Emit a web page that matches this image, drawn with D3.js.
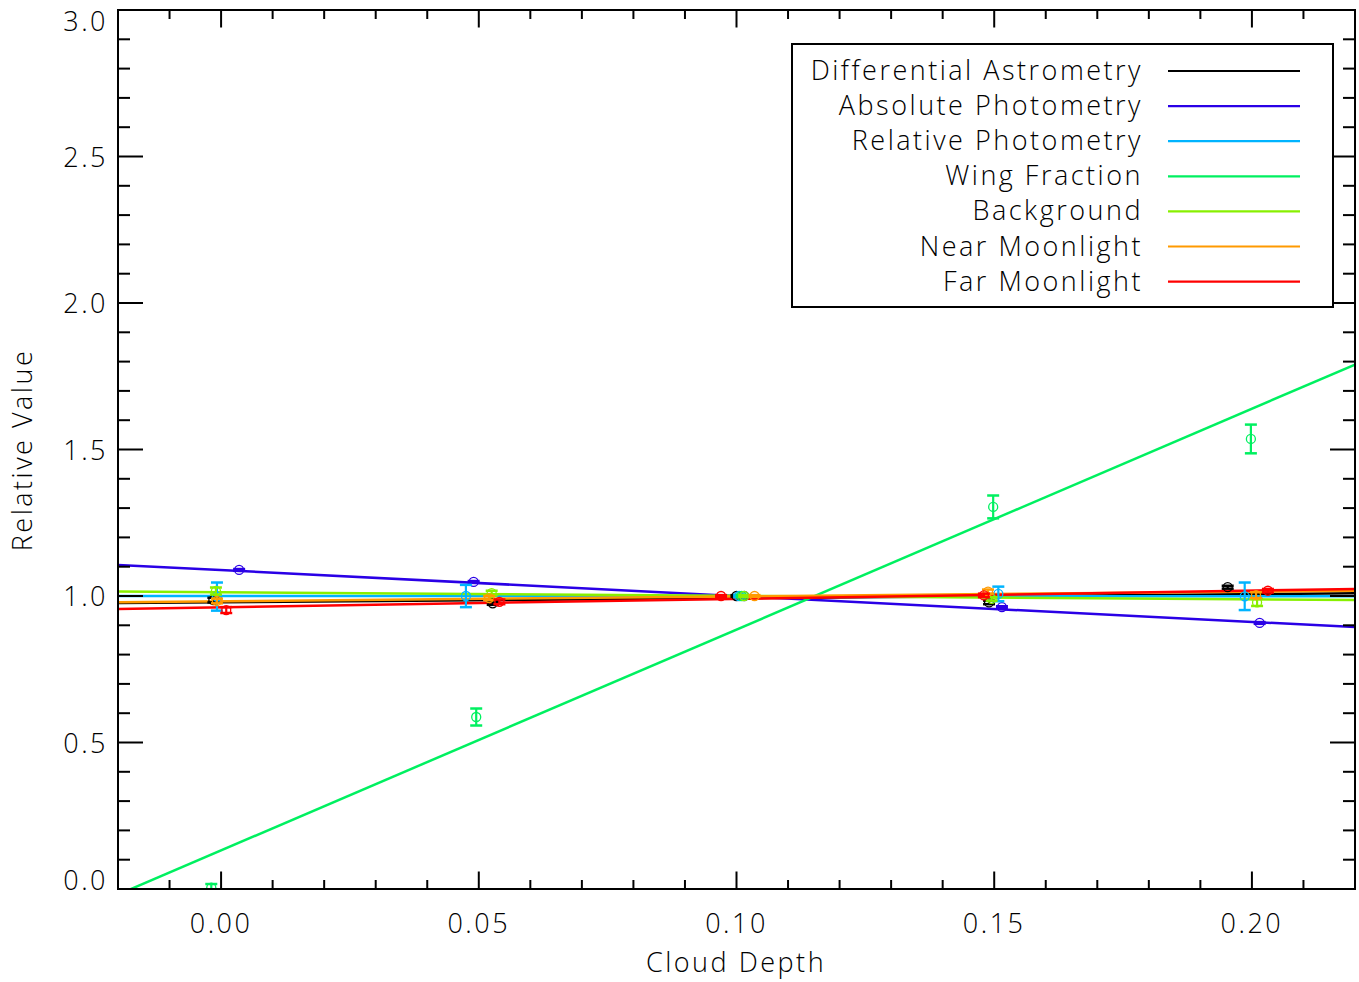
<!DOCTYPE html>
<html><head><meta charset="utf-8">
<script src="https://cdn.jsdelivr.net/npm/d3@7"></script>
<style>
body{margin:0;background:#fff;}
text{font-family:"Open Sans","Liberation Sans","DejaVu Sans",sans-serif;font-weight:300;fill:#000;}
</style></head>
<body><svg id="c" width="1359" height="982"></svg>
<script>
// ---- data ----
const seriesNames = ["Differential Astrometry","Absolute Photometry","Relative Photometry","Wing Fraction","Background","Near Moonlight","Far Moonlight"];
const seriesColors = ["#000000","#2a00e6","#00b4ff","#00f060","#88f000","#ff9a00","#ff0000"];
// point x positions (slightly offset per series), values and errors
const astromX = [-0.0015, 0.0527, 0.100, 0.1490, 0.1953];
const astromY = [0.986, 0.975, 1.000, 0.978, 1.030];
const astromE = [0.008, 0.005, 0.003, 0.006, 0.005];
const absPhotX = [0.0035, 0.0490, 0.1015, 0.1515, 0.2015];
const absPhotY = [1.089, 1.048, 1.000, 0.962, 0.908];
const absPhotE = [0.003, 0.003, 0.002, 0.003, 0.003];
const relPhotX = [-0.0008, 0.0475, 0.1005, 0.1508, 0.1986];
const relPhotY = [0.998, 1.000, 1.000, 1.007, 0.999];
const relPhotE = [0.048, 0.038, 0.004, 0.025, 0.047];
const wingX = [-0.0019, 0.0495, 0.1010, 0.1498, 0.1998];
const wingY = [0.005, 0.587, 1.000, 1.304, 1.536];
const wingE = [0.012, 0.029, 0.004, 0.039, 0.049];
const bgX = [-0.0010, 0.0525, 0.1015, 0.1495, 0.2010];
const bgY = [1.017, 1.010, 1.000, 0.990, 0.978];
const bgE = [0.012, 0.008, 0.003, 0.006, 0.012];
const nearX = [-0.0008, 0.0520, 0.1035, 0.1488, 0.2008];
const nearY = [0.983, 0.993, 1.000, 1.015, 1.003];
const nearE = [0.008, 0.007, 0.003, 0.007, 0.010];
const farX = [0.0010, 0.0540, 0.0970, 0.1480, 0.2031];
const farY = [0.952, 0.980, 1.000, 1.002, 1.018];
const farE = [0.010, 0.008, 0.003, 0.006, 0.006];
// fitted line values at the left (x=-0.02) and right (x=0.22) edges
const fitLeft  = [0.976, 1.106, 1.000, -0.019, 1.015, 0.979, 0.956];
const fitRight = [1.009, 0.894, 0.999, 1.790, 0.986, 1.018, 1.024];
const xTicks = [0.00, 0.05, 0.10, 0.15, 0.20];
const yTicks = [0.0, 0.5, 1.0, 1.5, 2.0, 2.5, 3.0];

const pointsX = [astromX, absPhotX, relPhotX, wingX, bgX, nearX, farX];
const pointsY = [astromY, absPhotY, relPhotY, wingY, bgY, nearY, farY];
const pointsE = [astromE, absPhotE, relPhotE, wingE, bgE, nearE, farE];

// ---- layout ----
const L = 118, R = 1355, T = 10, B = 889;
const x = d3.scaleLinear().domain([-0.02, 0.22]).range([L, R]);
const y = d3.scaleLinear().domain([0, 3]).range([B, T]);
const svg = d3.select("#c");

const plot = svg.append("g");
svg.append("clipPath").attr("id", "clip").append("rect").attr("x", L).attr("y", T).attr("width", R - L).attr("height", B - T);
const inner = plot.append("g").attr("clip-path", "url(#clip)");

// fit lines
seriesNames.forEach((n, i) => {
  inner.append("line")
    .attr("x1", x(-0.02)).attr("y1", y(fitLeft[i]))
    .attr("x2", x(0.22)).attr("y2", y(fitRight[i]))
    .attr("stroke", seriesColors[i]).attr("stroke-width", 2.5);
});

// points with error bars
seriesNames.forEach((n, i) => {
  const g = inner.append("g").attr("stroke", seriesColors[i]).attr("fill", "none");
  pointsX[i].forEach((px, j) => {
    const cx = x(px), v = pointsY[i][j], e = pointsE[i][j];
    const y1 = y(v + e), y2 = y(v - e);
    g.append("line").attr("x1", cx).attr("x2", cx).attr("y1", y1).attr("y2", y2).attr("stroke-width", 2.2);
    g.append("line").attr("x1", cx - 6).attr("x2", cx + 6).attr("y1", y1).attr("y2", y1).attr("stroke-width", 2.5);
    g.append("line").attr("x1", cx - 6).attr("x2", cx + 6).attr("y1", y2).attr("y2", y2).attr("stroke-width", 2.5);
    g.append("circle").attr("cx", cx).attr("cy", y(v)).attr("r", 4.5).attr("stroke-width", 1.3);
  });
});

// axes frame
const ax = svg.append("g").attr("stroke", "#000").attr("stroke-width", 2);
ax.append("rect").attr("x", L).attr("y", T).attr("width", R - L).attr("height", B - T).attr("fill", "none");

const xMinor = d3.range(-0.02, 0.2201, 0.01);
xMinor.forEach(v => {
  const isMajor = xTicks.some(t => Math.abs(t - v) < 1e-6);
  const len = isMajor ? 17.5 : 9;
  const px = x(v);
  ax.append("line").attr("x1", px).attr("x2", px).attr("y1", B).attr("y2", B - len);
  ax.append("line").attr("x1", px).attr("x2", px).attr("y1", T).attr("y2", T + len);
});
const yMinor = d3.range(0, 3.001, 0.1);
yMinor.forEach(v => {
  const isMajor = yTicks.some(t => Math.abs(t - v) < 1e-6);
  const len = isMajor ? 25 : 12;
  const py = y(v);
  ax.append("line").attr("x1", L).attr("x2", L + len).attr("y1", py).attr("y2", py);
  ax.append("line").attr("x1", R).attr("x2", R - len).attr("y1", py).attr("y2", py);
});

// tick labels
const fs = 27;
xTicks.forEach(v => {
  svg.append("text").attr("x", x(v)).attr("y", 933).attr("text-anchor", "middle")
    .attr("font-size", fs).attr("letter-spacing", 2.5).text(v.toFixed(2));
});
yTicks.forEach(v => {
  let by = y(v) + 10;
  if (v === 3) by = 31;
  if (v === 0) by = 890;
  svg.append("text").attr("x", 108).attr("y", by).attr("text-anchor", "end")
    .attr("font-size", fs).attr("letter-spacing", 2.5).text(v.toFixed(1));
});
svg.append("text").attr("x", 736).attr("y", 972).attr("text-anchor", "middle")
  .attr("font-size", fs).attr("letter-spacing", 2.5).text("Cloud Depth");
svg.append("text").attr("transform", "translate(32,450) rotate(-90)").attr("text-anchor", "middle")
  .attr("font-size", fs).attr("letter-spacing", 2.5).text("Relative Value");

// legend
const lg = svg.append("g");
lg.append("rect").attr("x", 792).attr("y", 44).attr("width", 541).attr("height", 263)
  .attr("fill", "#fff").attr("stroke", "#000").attr("stroke-width", 2);
seriesNames.forEach((n, i) => {
  const yy = 71 + i * 35.1;
  lg.append("text").attr("x", 1143).attr("y", yy + 9).attr("text-anchor", "end")
    .attr("font-size", fs).attr("letter-spacing", 2.5).text(n);
  lg.append("line").attr("x1", 1168).attr("x2", 1300).attr("y1", yy).attr("y2", yy)
    .attr("stroke", seriesColors[i]).attr("stroke-width", 2.2);
});
</script></body></html>
